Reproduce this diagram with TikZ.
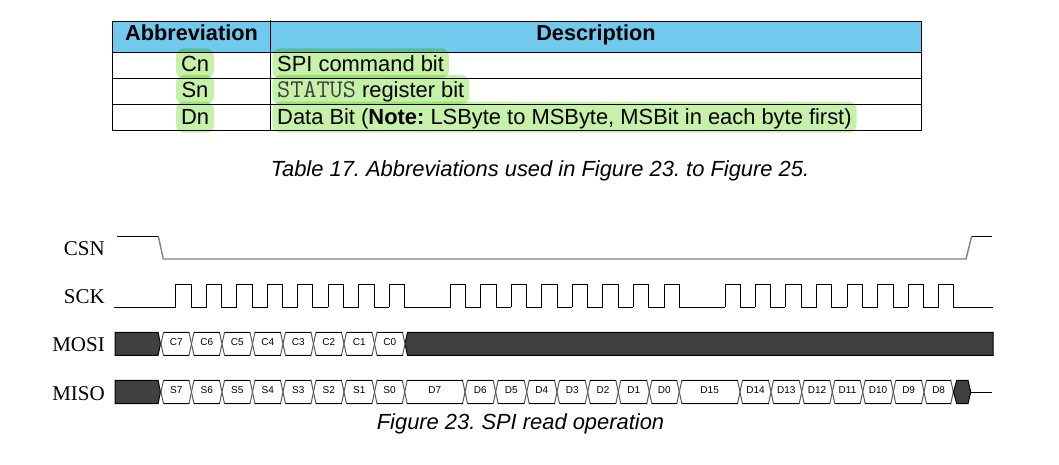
\documentclass[tikz,border=0pt]{standalone}
\usepackage{fontspec}
\setmainfont{Liberation Sans}
\newfontfamily\sigfont{Liberation Serif}
\usepackage{xcolor}
\definecolor{headblue}{HTML}{72C9EE}
\definecolor{markgreen}{HTML}{C6F1A8}
\definecolor{busdark}{HTML}{404040}
\definecolor{csnline}{gray}{0.5}
\definecolor{edgegray}{gray}{0.35}
\tikzset{
    tabletext/.style={inner sep=0pt, anchor=base, font=\fontsize{21.9}{24}\selectfont},
    tablehead/.style={tabletext, font=\fontsize{21.7}{24}\selectfont\bfseries},
    caption_text/.style={inner sep=0pt, anchor=base, font=\fontsize{21.9}{24}\selectfont\itshape},
    signal_name/.style={inner sep=0pt, anchor=base east, font=\fontsize{21}{24}\selectfont\sigfont},
    bit_name/.style={inner sep=0pt, anchor=base, font=\fontsize{10}{12}\selectfont},
    marker/.style={fill=markgreen, rounded corners=8pt, blend mode=multiply},
    bit_cell/.style={draw=edgegray, line width=1pt, fill=white},
    bus_idle/.style={draw=black, line width=1pt, fill=busdark},
    wave/.style={draw=black, line width=1pt}
}

\begin{document}
\frenchspacing
\begin{tikzpicture}[x=1pt, y=-1pt]
    \useasboundingbox (0,0) rectangle (1059,465);

    \fill[headblue] (112.3,21.3) rectangle (921.7,52.3);
    \fill[marker] (176,48.3) rectangle (214,78.3);
    \fill[marker] (176,75) rectangle (214,104.3);
    \fill[marker] (176,101.7) rectangle (214,132.7);
    \fill[marker] (272.3,48.3) rectangle (449,78.3);
    \fill[marker] (272.3,75) rectangle (469.3,104.3);
    \fill[marker] (272.3,101.7) rectangle (856.7,132.7);
    \draw[line width=1pt] (112.3,21.3) rectangle (921.7,131);
    \draw[line width=1pt] (270.3,20) -- (270.3,131);
    \foreach \rowline in {52.3,78.3,104.3}
        \draw[line width=1pt] (112.3,\rowline) -- (921.7,\rowline);

    \node[tablehead] (abbrhead) at (191.5,41) {Abbreviation};
    \node[tablehead] (deschead) at (596,41) {Description};
    \node[tabletext] (cn) at (195,72) {Cn};
    \node[tabletext] (sn) at (195,98) {Sn};
    \node[tabletext] (dn) at (195,125) {Dn};
    \node[tabletext, anchor=base west] (cndesc) at (277,72) {SPI command bit};
    \node[tabletext, anchor=base west] (sndesc) at (277,98) {{\fontsize{25.5}{24}\selectfont\ttfamily\color{black!75}STATUS} register bit};
    \node[tabletext, anchor=base west] (dndesc) at (277,125) {Data Bit (\textbf{Note:} LSByte to MSByte, MSBit in each byte first)};
    \node[caption_text] (tablecap) at (540,176) {Table 17. Abbreviations used in Figure 23. to Figure 25.};

    \node[signal_name] (csn) at (105,255) {CSN};
    \node[signal_name] (sck) at (105,303) {SCK};
    \node[signal_name] (mosi) at (105,351) {MOSI};
    \node[signal_name] (miso) at (105,400) {MISO};

    \draw[draw=csnline, line width=1.4pt] (158.3,236) -- (163.3,259) -- (966,259) -- (971.7,236);
    \draw[wave] (117.3,236) -- (158.3,236);
    \draw[wave] (971.7,236) -- (991.7,236);

    \draw[wave] (114,307.3) -- (175.7,307.3);
    \foreach \rise/\fall/\next in {
        175.7/191.3/206.7, 206.7/221.7/236.7, 236.7/252.3/267.7, 267.7/282.7/297.7,
        297.7/312.7/328.3, 328.3/343.3/358.7, 358.7/374.3/389.3, 389.3/404.3/450.7,
        450.7/465.7/480.7, 480.7/496.7/511.3, 511.3/526.3/541.7, 541.7/557.3/572.3,
        572.3/587.7/602.7, 602.7/618.7/633.3, 633.3/648.7/664.7, 664.7/679.3/725.3,
        725.3/740.3/755.3, 755.3/770.7/785.3, 785.3/801.7/816.7, 816.7/831.7/847,
        847/862.7/877.7, 877.7/893.3/908.3, 908.3/923.7/938.7, 938.7/953.3/993}
        \draw[wave] (\rise,307.3) -- (\rise,284.3) -- (\fall,284.3) -- (\fall,307.3) -- (\next,307.3);

    \draw[bus_idle] (115,332.3) -- (158,332.3) -- (160.5,344) -- (158,355.3) -- (115,355.3) -- cycle;
    \draw[bus_idle] (993,332.3) -- (407.5,332.3) -- (405,344) -- (407.5,355.3) -- (993,355.3) -- cycle;
    \foreach \from/\to/\bit in {161/191.5/C7, 191.5/222/C6, 222/252.5/C5, 252.5/283/C4,
        283/313.5/C3, 313.5/344/C2, 344/374.5/C1, 374.5/405/C0} {
        \draw[bit_cell] ({\from+2.5},332.3) -- ({\to-2.5},332.3) -- (\to,344) -- ({\to-2.5},355.3)
            -- ({\from+2.5},355.3) -- (\from,344) -- cycle;
        \draw[wave] ({\from+2.5},332.3) -- ({\to-2.5},332.3) ({\from+2.5},355.3) -- ({\to-2.5},355.3);
        \node[bit_name] (mosi\bit) at ({(\from+\to)/2},345.5) {\bit};
    }

    \draw[bus_idle] (115,380.3) -- (158,380.3) -- (160.5,392) -- (158,403.7) -- (115,403.7) -- cycle;
    \foreach \from/\to/\bit in {161/191.5/S7, 191.5/222/S6, 222/252.5/S5, 252.5/283/S4,
        283/313.5/S3, 313.5/344/S2, 344/374.5/S1, 374.5/404.7/S0, 404.7/465/D7,
        465/495.7/D6, 495.7/526.7/D5, 526.7/557/D4, 557/587.7/D3, 587.7/618.3/D2,
        618.3/649.3/D1, 649.3/679.3/D0, 679.3/740/D15, 740/771/D14, 771/801.7/D13,
        801.7/832.3/D12, 832.3/862.7/D11, 862.7/893.3/D10, 893.3/924/D9, 924/953.3/D8} {
        \draw[bit_cell] ({\from+2.5},380.3) -- ({\to-2.5},380.3) -- (\to,392) -- ({\to-2.5},403.7)
            -- ({\from+2.5},403.7) -- (\from,392) -- cycle;
        \draw[wave] ({\from+2.5},380.3) -- ({\to-2.5},380.3) ({\from+2.5},403.7) -- ({\to-2.5},403.7);
        \node[bit_name] (miso\bit) at ({(\from+\to)/2},393) {\bit};
    }
    \draw[bus_idle] (953.5,392) -- (956.7,380.3) -- (968,380.3) -- (970.7,392) -- (968,403.7) -- (956.7,403.7) -- cycle;
    \draw[wave] (970.7,392.7) -- (992,392.7);

    \node[caption_text] (figcap) at (520.5,429.5) {Figure 23. SPI read operation};
\end{tikzpicture}
\end{document}
